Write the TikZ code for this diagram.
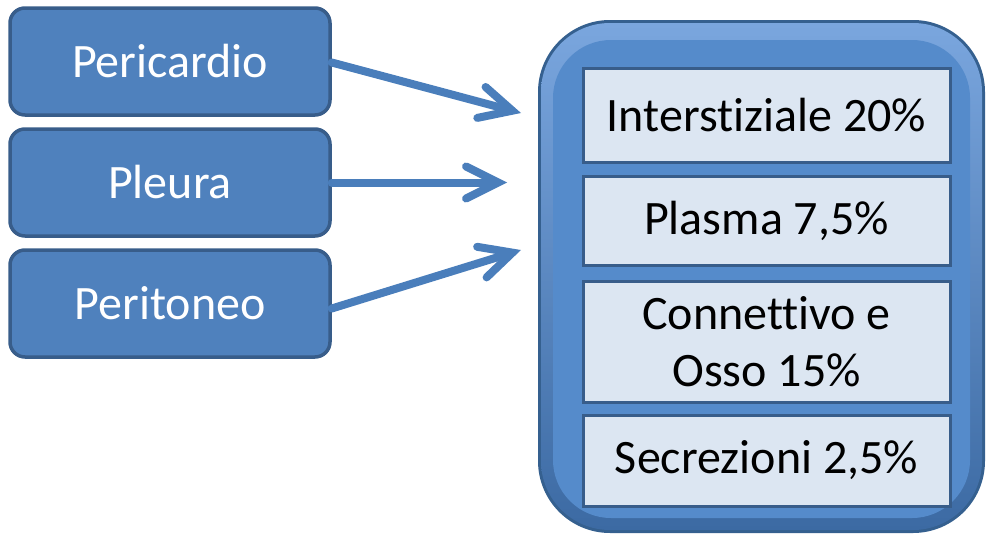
\documentclass[tikz,border=0pt]{standalone}
\usepackage{fontspec}
\setmainfont{Carlito}[Ligatures=CommonOff]
\usetikzlibrary{arrows.meta}
\definecolor{boxblue}{HTML}{4F81BD}
\definecolor{boxedge}{HTML}{385D8A}
\definecolor{bigblue}{HTML}{558BCB}
\definecolor{bigedge}{HTML}{35608F}
\definecolor{bevtop}{HTML}{7AA6DE}
\definecolor{bevbot}{HTML}{3C6AA3}
\definecolor{innerfill}{HTML}{DCE6F2}
\definecolor{arrowblue}{HTML}{4A7EBB}
\tikzset{
  srcbox/.style={draw=boxedge, line width=3.5pt, fill=boxblue, rounded corners=15pt,
    minimum width=320pt, minimum height=107pt, inner sep=0pt, text=white,
    font=\fontsize{48}{56}\selectfont},
  cellbox/.style={draw=boxedge, line width=3pt, fill=innerfill,
    minimum width=367pt, inner sep=0pt, align=center, text=black,
    font=\fontsize{48}{57}\selectfont},
  flowarrow/.style={draw=arrowblue, line width=8pt, line cap=round,
    -{Straight Barb[length=32pt,width=32pt,line cap=round]}}
}
\begin{document}
\begin{tikzpicture}[x=1pt,y=-1pt]
\useasboundingbox (0,0) rectangle (988,538);
% big container with bevel
\fill[bigedge, rounded corners=72pt] (538,20) rectangle (985,533);
\shade[top color=bevtop, bottom color=bevbot, rounded corners=69pt]
  (541,23) rectangle (982,530);
\fill[bigblue, rounded corners=58pt] (553,40) rectangle (970,518);
\node[coordinate] (big) at (761,277) {};
% left boxes
\node[srcbox] (peri) at (170,61.5) {Pericardio};
\node[srcbox] (pleu) at (170,182.5) {Pleura};
\node[srcbox] (perit) at (170,303.5) {Peritoneo};
% inner cells
\node[cellbox, minimum height=94pt] (inter) at (766.5,115) {Interstiziale 20\%};
\node[cellbox, minimum height=89pt] (plas) at (766.5,220.5) {Plasma 7,5\%};
\node[cellbox, minimum height=121pt] (conn) at (766.5,341.5) {Connettivo e\\Osso 15\%};
\node[cellbox, minimum height=91pt] (secr) at (766.5,460.5) {Secrezioni 2,5\%};
% arrow tips
\coordinate (t1) at (521,113);
\coordinate (t2) at (507,182.5);
\coordinate (t3) at (521,250);
\draw[flowarrow] ([yshift=-1pt]peri.east) -- (t1);
\draw[flowarrow] (pleu.east) -- (t2);
\draw[flowarrow] ([yshift=-5pt]perit.east) -- (t3);
\end{tikzpicture}
\end{document}
